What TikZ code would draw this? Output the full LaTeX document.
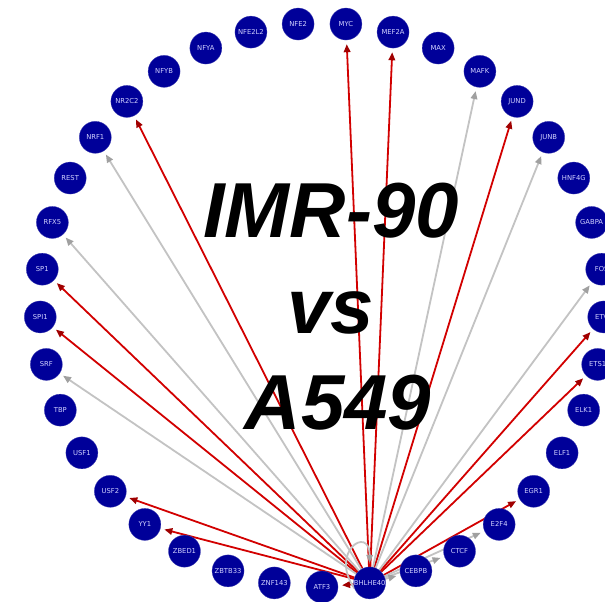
\documentclass[tikz,border=0pt]{standalone}
\usepackage{fontspec}
\setmainfont{DejaVu Sans}
\newfontfamily\titlefont{Liberation Sans}
\usetikzlibrary{arrows.meta}
\pgfdeclarelayer{background}
\pgfsetlayers{background,main}
\definecolor{nodeblue}{RGB}{0,0,153}
\definecolor{nodetext}{RGB}{210,210,255}
\definecolor{edgered}{RGB}{210,0,0}
\definecolor{tipred}{RGB}{160,0,0}
\definecolor{edgegray}{RGB}{195,195,195}
\definecolor{tipgray}{RGB}{160,160,160}
\tikzset{
 tf/.style={circle, fill=nodeblue, draw=nodeblue!75!white, line width=0.3pt, minimum size=32pt, inner sep=0pt, text=nodetext, font=\fontsize{6.8}{8}\selectfont},
 redge/.style={draw=edgered, line width=1.8pt, -{Triangle[length=8pt,width=6.5pt,color=tipred]}, shorten >=4pt},
 gedge/.style={draw=edgegray, line width=1.8pt, -{Triangle[length=8pt,width=6.5pt,color=tipgray]}, shorten >=4pt},
 titletext/.style={font=\titlefont\bfseries\itshape\fontsize{78}{90}\selectfont, anchor=base, inner sep=0pt}
}
\begin{document}
\begin{tikzpicture}[x=1pt,y=1pt]
\useasboundingbox (0,0) rectangle (605,602);
\clip (0,0) rectangle (605,602);
\foreach \n [count=\i from 0] in {ATF3,BHLHE40,CEBPB,CTCF,E2F4,EGR1,ELF1,ELK1,ETS1,ETV6,FOS,GABPA,HNF4G,JUNB,JUND,MAFK,MAX,MEF2A,MYC,NFE2,NFE2L2,NFYA,NFYB,NR2C2,NRF1,REST,RFX5,SP1,SPI1,SRF,TBP,USF1,USF2,YY1,ZBED1,ZBTB33,ZNF143}{
  \pgfmathsetmacro\ang{-90+\i*360/37}
  \node[tf] (\n) at ([shift={(322,297)}]\ang:282) {\n};
}
\begin{pgfonlayer}{background}
\fill[white] (0,0) rectangle (605,602);
\foreach \t in {MYC,MEF2A,JUND,ETV6,ETS1,EGR1,NR2C2,SP1,SPI1,USF2,YY1,ATF3}
  \draw[redge] (BHLHE40) -- (\t);
\foreach \t in {MAFK,JUNB,FOS,E2F4,CTCF,CEBPB,NRF1,RFX5,SRF}
  \draw[gedge] (BHLHE40) -- (\t);
\draw[gedge] (BHLHE40.200) .. controls +(125:45) and +(90:42) .. (BHLHE40.north);
\end{pgfonlayer}
\node[titletext] (t1) at (331,364) {IMR-90};
\node[titletext] (t2) at (331,268) {vs};
\node[titletext] (t3) at (338,172) {A549};
\end{tikzpicture}
\end{document}
